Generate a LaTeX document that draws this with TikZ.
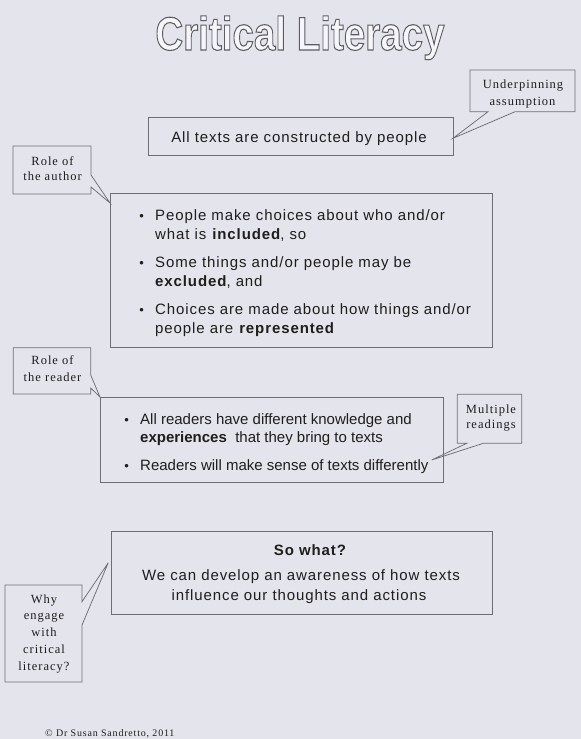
\documentclass[tikz,border=0pt]{standalone}
\usepackage{fontspec}
\usepackage{graphicx}
\setmainfont{Liberation Sans}
\newfontfamily\bodyfont[LetterSpace=6]{Liberation Sans}
\newfontfamily\plainfont{Liberation Sans}
\newfontfamily\notefont[LetterSpace=8]{Liberation Serif}
\usetikzlibrary{calc}
\definecolor{bgcol}{RGB}{228,228,236}
\definecolor{linecol}{RGB}{110,110,116}
\definecolor{txtcol}{RGB}{30,30,30}
\newcommand{\outlinetitle}[1]{\special{pdf:literal direct 2 Tr 1.1 w 0.36 0.36 0.39 RG 0.96 0.96 0.98 rg}#1\special{pdf:literal direct 0 Tr 0 g 0 G}}
\begin{document}
\begin{tikzpicture}[x=1pt,y=-1pt,
  mainbox/.style={draw=linecol, line width=0.8pt, inner sep=0pt, outer sep=0pt},
  cbox/.style={inner sep=0pt, outer sep=0pt},
  cline/.style={draw=linecol, line width=0.75pt, line join=miter},
  bodytxt/.style={inner sep=0pt, text=txtcol, anchor=base west, font=\bodyfont\fontsize{15}{18}\selectfont},
  plaintxt/.style={inner sep=0pt, text=txtcol, anchor=base west, font=\plainfont\fontsize{15}{18}\selectfont},
  centertxt/.style={inner sep=0pt, text=txtcol, anchor=base, font=\bodyfont\fontsize{15}{18}\selectfont},
  bul/.style={inner sep=0pt, text=txtcol, anchor=base, font=\plainfont\fontsize{13}{15}\selectfont},
  notetxt/.style={inner sep=0pt, text=txtcol, anchor=base, font=\notefont\fontsize{12.5}{15}\selectfont},
]
\fill[bgcol] (0,0) rectangle (581,739);
\useasboundingbox (0,0) rectangle (581,739);

% title
\node[inner sep=0pt, anchor=base, font=\plainfont\bfseries\fontsize{47}{50}\selectfont] (title) at (300,50)
  {\scalebox{0.82}[1]{\outlinetitle{Critical Literacy}}};

% main boxes
\node[mainbox, minimum width=305, minimum height=38] (box1) at (300.5,136) {};
\node[mainbox, minimum width=382, minimum height=153.5] (box2) at (301,270.25) {};
\node[mainbox, minimum width=343, minimum height=85] (box3) at (271.5,439.5) {};
\node[mainbox, minimum width=381, minimum height=83] (box4) at (301.5,572.5) {};

% box 1 text
\node[centertxt] (t1) at (299,142.3) {All texts are constructed by people};

% box 2 text
\node[bul] (b2a) at (141.7,220.5) {\textbullet};
\node[bodytxt] (t2a) at (155,220.5) {People make choices about who and/or};
\node[bodytxt] (t2b) at (155,239.5) {what is \textbf{included}, so};
\node[bul] (b2b) at (141.7,267.5) {\textbullet};
\node[bodytxt] (t2c) at (155,267.5) {Some things and/or people may be};
\node[bodytxt] (t2d) at (155,286.5) {\textbf{excluded}, and};
\node[bul] (b2c) at (141.7,314.5) {\textbullet};
\node[bodytxt] (t2e) at (155,314.5) {Choices are made about how things and/or};
\node[bodytxt] (t2f) at (155,333.5) {people are \textbf{represented}};

% box 3 text
\node[bul] (b3a) at (126.7,424.5) {\textbullet};
\node[plaintxt] (t3a) at (140,424.5) {All readers have different knowledge and};
\node[plaintxt] (t3b) at (140,442.5) {\textbf{experiences}\ \ that they bring to texts};
\node[bul] (b3b) at (126.7,470) {\textbullet};
\node[plaintxt] (t3c) at (140,470) {Readers will make sense of texts differently};

% box 4 text
\node[centertxt, font=\bodyfont\bfseries\fontsize{15}{18}\selectfont] (t4a) at (310,555) {So what?};
\node[centertxt] (t4b) at (301,580.7) {We can develop an awareness of how texts};
\node[centertxt] (t4c) at (299,600.7) {influence our thoughts and actions};

% callout frames (named, invisible)
\node[cbox, minimum width=105, minimum height=41.7] (under) at (522.5,90.85) {};
\node[cbox, minimum width=78, minimum height=48] (author) at (52,170) {};
\node[cbox, minimum width=77.4, minimum height=46.3] (reader) at (52,370.85) {};
\node[cbox, minimum width=64.4, minimum height=49] (multi) at (489.5,418.8) {};
\node[cbox, minimum width=77, minimum height=97] (why) at (43.5,633.5) {};

% callout outlines with pointers
\draw[cline] (under.south west) -- (under.north west) -- (under.north east) -- (under.south east)
  -- ($(under.south west)+(45,0)$) -- ($(box1.east)+(0,2.3)$) -- ($(under.south west)+(18,0)$) -- cycle;
\draw[cline] (author.north east) -- ($(author.north east)+(0,29)$) -- ($(box2.north west)+(0,9.5)$)
  -- ($(author.north east)+(0,41)$) -- (author.south east) -- (author.south west) -- (author.north west) -- cycle;
\draw[cline] (reader.north east) -- ($(reader.north east)+(0,27.3)$) -- (box3.north west)
  -- ($(reader.north east)+(0,40.3)$) -- (reader.south east) -- (reader.south west) -- (reader.north west) -- cycle;
\draw[cline] (multi.south west) -- (multi.north west) -- (multi.north east) -- (multi.south east)
  -- ($(multi.south west)+(26,0)$) -- ($(box3.east)+(-11.3,20.5)$) -- ($(multi.south west)+(9.4,0)$) -- cycle;
\draw[cline] (why.north east) -- ($(why.north east)+(0,16.7)$) -- ($(box4.west)+(-2.7,-9.8)$)
  -- ($(why.north east)+(0,40)$) -- (why.south east) -- (why.south west) -- (why.north west) -- cycle;

% callout texts
\node[notetxt] (u1) at (523,88) {Underpinning};
\node[notetxt] (u2) at (522.5,105) {assumption};
\node[notetxt] (a1) at (52.5,165) {Role of};
\node[notetxt] (a2) at (52.5,180.7) {the author};
\node[notetxt] (r1) at (52.5,364) {Role of};
\node[notetxt] (r2) at (52.5,381.7) {the reader};
\node[notetxt] (m1) at (491,413.3) {Multiple};
\node[notetxt] (m2) at (491,428.3) {readings};
\node[notetxt] (w1) at (44,603) {Why};
\node[notetxt] (w2) at (44,619.8) {engage};
\node[notetxt] (w3) at (44,636.6) {with};
\node[notetxt] (w4) at (44,653.4) {critical};
\node[notetxt] (w5) at (44,670.2) {literacy?};

% copyright
\node[inner sep=0pt, anchor=base west, text=txtcol, font=\notefont\fontsize{10}{12}\selectfont] (copy) at (45,736) {© Dr Susan Sandretto, 2011};
\end{tikzpicture}
\end{document}
